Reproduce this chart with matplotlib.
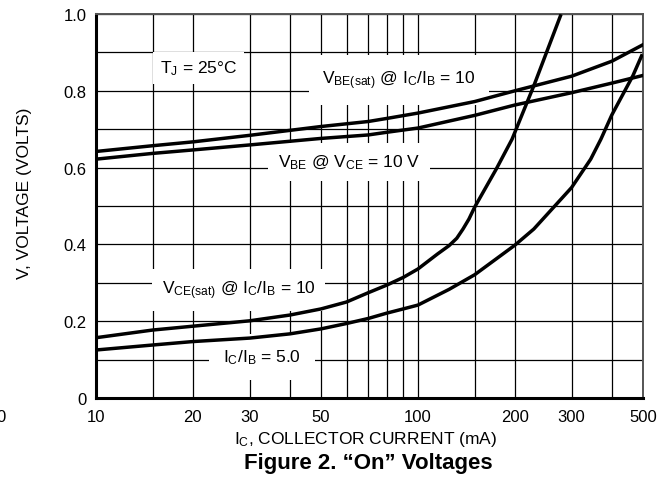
"""
"On" Voltages - Datenblatt Figure 2 nachgezeichnet
"""

#%% Pakete

import numpy as np
import matplotlib
matplotlib.use('Agg')
import matplotlib.pyplot as plt


#%% Daten

# VBE(sat) @ IC/IB = 10
I_vbe_sat = [10, 15, 20, 30, 50, 70, 80, 100, 150, 200, 300, 400, 500]
V_vbe_sat = [0.642, 0.657, 0.667, 0.684, 0.707, 0.720, 0.728, 0.742, 0.772, 0.800, 0.838, 0.877, 0.920]

# VBE @ VCE = 10 V
I_vbe = [10, 15, 20, 30, 50, 70, 80, 100, 150, 200, 300, 400, 500]
V_vbe = [0.622, 0.637, 0.646, 0.659, 0.676, 0.685, 0.692, 0.703, 0.736, 0.763, 0.795, 0.820, 0.840]

# VCE(sat) @ IC/IB = 10
I_vce10 = [10, 15, 20, 30, 40, 50, 60, 70, 80, 90, 100, 115, 125, 132, 138, 144, 150, 175, 196, 229, 277]
V_vce10 = [0.157, 0.177, 0.187, 0.201, 0.216, 0.232, 0.250, 0.274, 0.294, 0.314, 0.336,
           0.375, 0.397, 0.416, 0.440, 0.466, 0.497, 0.596, 0.674, 0.813, 0.995]

# VCE(sat) @ IC/IB = 5.0
I_vce5 = [10, 15, 20, 30, 40, 50, 60, 70, 80, 90, 100, 125, 150, 200, 229, 300, 344, 370, 400, 465, 495]
V_vce5 = [0.125, 0.138, 0.147, 0.156, 0.167, 0.180, 0.194, 0.207, 0.221, 0.232, 0.242, 0.283,
          0.321, 0.398, 0.440, 0.548, 0.622, 0.674, 0.737, 0.839, 0.891]

x_ticks = [10, 20, 30, 50, 100, 200, 300, 500]
x_minor = [15, 40, 60, 70, 80, 90, 150, 400]
y_ticks = [0, 0.2, 0.4, 0.6, 0.8, 1.0]
y_ticklabels = ['0', '0.2', '0.4', '0.6', '0.8', '1.0']


#%% Plot

plt.rcParams['font.family'] = ['Liberation Sans', 'DejaVu Sans']
plt.rcParams['mathtext.default'] = 'regular'

fig = plt.figure(figsize=(6.62, 4.85), dpi=100)
ax = fig.add_axes([96/662, 86/485, 547/662, 384/485])

ax.plot(I_vbe_sat, V_vbe_sat, color='black', lw=2.5, zorder=4)
ax.plot(I_vbe, V_vbe, color='black', lw=2.5, zorder=4)
ax.plot(I_vce10, V_vce10, color='black', lw=2.5, zorder=4)
ax.plot(I_vce5, V_vce5, color='black', lw=2.5, zorder=4)

ax.set_xscale('log')
ax.set_xlim(10, 500)
ax.set_ylim(0, 1.0)
ax.set_xticks(x_ticks)
ax.set_xticklabels([str(t) for t in x_ticks])
ax.set_xticks(x_minor, minor=True)
ax.set_xticklabels([], minor=True)
ax.set_yticks(np.arange(0, 1.01, 0.1), minor=True)
ax.set_yticks(y_ticks)
ax.set_yticklabels(y_ticklabels)
ax.tick_params(which='both', length=0, labelsize=12)
ax.tick_params(axis='x', pad=8)
ax.tick_params(axis='y', pad=7)

ax.grid(which='both', color='black', lw=0.9)
ax.set_axisbelow(True)

for s in ['left', 'bottom']:
    ax.spines[s].set_linewidth(2.2)
for s in ['top', 'right']:
    ax.spines[s].set_linewidth(1.4)
    ax.spines[s].set_color('#555555')

# Beschriftungen mit weissem Hintergrund
box = dict(facecolor='white', edgecolor='none')
ax.text(0.188, 0.859, r'T$_J$ = 25°C', transform=ax.transAxes, ha='center', va='center',
        fontsize=12.5, zorder=3, bbox=dict(box, pad=5))
ax.text(0.554, 0.828, r'V$_{BE(sat)}$ @ I$_C$/I$_B$ = 10', transform=ax.transAxes, ha='center',
        va='center', fontsize=12.5, zorder=3, bbox=dict(box, pad=10))
ax.text(0.4625, 0.615, r'V$_{BE}$ @ V$_{CE}$ = 10 V', transform=ax.transAxes, ha='center',
        va='center', fontsize=12.5, zorder=3, bbox=dict(box, pad=7))
ax.text(0.261, 0.281, r'V$_{CE(sat)}$ @ I$_C$/I$_B$ = 10', transform=ax.transAxes, ha='center',
        va='center', fontsize=12.5, zorder=3, bbox=dict(box, pad=7))
ax.text(0.304, 0.107, r'I$_C$/I$_B$ = 5.0', transform=ax.transAxes, ha='center',
        va='center', fontsize=12.5, zorder=3, bbox=dict(box, pad=10))

fig.text(24/662, 1 - 193/485, 'V, VOLTAGE (VOLTS)', rotation=90, ha='center', va='center', fontsize=12.5)
fig.text(366/662, 1 - 440/485, r'I$_C$, COLLECTOR CURRENT (mA)', ha='center', va='center', fontsize=12.5)
fig.text(368/662, 1 - 463/485, 'Figure 2. \u201cOn\u201d Voltages', ha='center', va='center',
         fontsize=16, fontweight='bold')
# Rest vom Nachbarbild (auch im Original abgeschnitten)
fig.text(1/662, 1 - 417/485, '0', ha='center', va='center', fontsize=12)

plt.savefig('out.png', dpi=100)
